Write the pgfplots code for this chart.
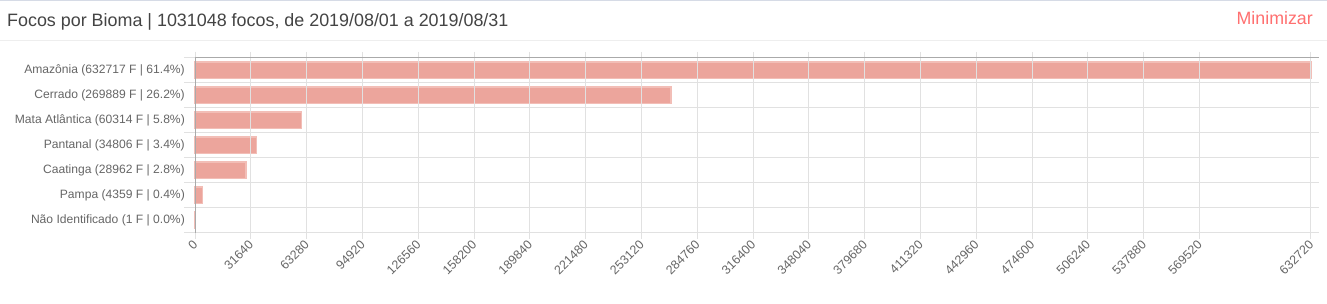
\documentclass[border=0pt]{standalone}
\usepackage{fontspec}
\setmainfont{Liberation Sans}
\usepackage{pgfplots}
\pgfplotsset{compat=1.18}
\definecolor{barfill}{RGB}{236,165,156}
\definecolor{baredge}{RGB}{242,190,183}
\definecolor{txt}{RGB}{102,102,102}
\definecolor{ttl}{RGB}{68,68,68}
\definecolor{minred}{RGB}{255,112,112}
\definecolor{gridc}{RGB}{225,225,225}
\definecolor{axisc}{RGB}{170,170,170}
\begin{document}
\begin{tikzpicture}
\useasboundingbox (0pt,0pt) rectangle (1327pt,304pt);
\fill[white] (0pt,0pt) rectangle (1327pt,304pt);
\draw[color={rgb,255:red,214;green,219;blue,230}, line width=1.5pt] (0pt,303.6pt) -- (1327pt,303.6pt);
\draw[color={rgb,255:red,238;green,238;blue,238}, line width=1pt] (0pt,263.3pt) -- (1327pt,263.3pt);
\node[anchor=base west, inner sep=0pt, text=ttl, font=\fontsize{17.9}{20}\selectfont] at (7pt,277.5pt) {Focos por Bioma | 1031048 focos, de 2019/08/01 a 2019/08/31};
\node[anchor=base east, inner sep=0pt, text=minred, font=\fontsize{17.8}{20}\selectfont] at (1313pt,279pt) {Minimizar};
\begin{axis}[
  at={(195pt,71pt)}, anchor=south west,
  width=1124pt, height=175pt, scale only axis,
  xmin=0, xmax=637255.6,
  ymin=-0.5, ymax=6.5,
  scaled x ticks=false,
  axis line style={draw=none},
  xbar, bar width=16.5pt, bar shift=0pt,
  xtick={0,31640,63280,94920,126560,158200,189840,221480,253120,284760,316400,348040,379680,411320,442960,474600,506240,537880,569520,632720},
  xticklabels={0,31640,63280,94920,126560,158200,189840,221480,253120,284760,316400,348040,379680,411320,442960,474600,506240,537880,569520,632720},
  xtick pos=both, xticklabel pos=lower,
  xmajorgrids, grid style={gridc, line width=1pt},
  ytick={0,1,2,3,4,5,6},
  yticklabels={Não Identificado (1 F | 0.0\%),Pampa (4359 F | 0.4\%),Caatinga (28962 F | 2.8\%),Pantanal (34806 F | 3.4\%),Mata Atlântica (60314 F | 5.8\%),Cerrado (269889 F | 26.2\%),Amazônia (632717 F | 61.4\%)},
  minor ytick={-0.5,0.5,1.5,2.5,3.5,4.5,5.5,6.5},
  yminorgrids, minor grid style={gridc, line width=1pt},
  ytick pos=left,
  tick align=outside,
  major tick length=6pt, minor tick length=11pt,
  tick style={gridc, line width=1pt},
  major y tick style={draw=none},
  extra x ticks={0}, extra x tick labels={},
  extra x tick style={grid=major, major grid style={axisc, line width=1pt}, tick style={gridc}},
  extra y ticks={6.5}, extra y tick labels={},
  extra y tick style={grid=major, major grid style={axisc, line width=1pt}, tick style={draw=none}},
  /pgf/number format/assume math mode=true,
  xticklabel style={rotate=45, anchor=east, text=txt, font=\fontsize{12.5}{14}\selectfont, inner sep=0pt, yshift=-3pt, xshift=-2.5pt},
  yticklabel style={anchor=east, text=txt, font=\fontsize{12.1}{14}\selectfont, inner sep=0pt, xshift=-4pt},
  axis on top,
  clip=false,
]
\addplot[fill=barfill, draw=baredge, line width=1.5pt] coordinates {
(632717,6) (269889,5) (60314,4) (34806,3) (28962,2) (4359,1) (1,0)
};
\end{axis}
\end{tikzpicture}
\end{document}
